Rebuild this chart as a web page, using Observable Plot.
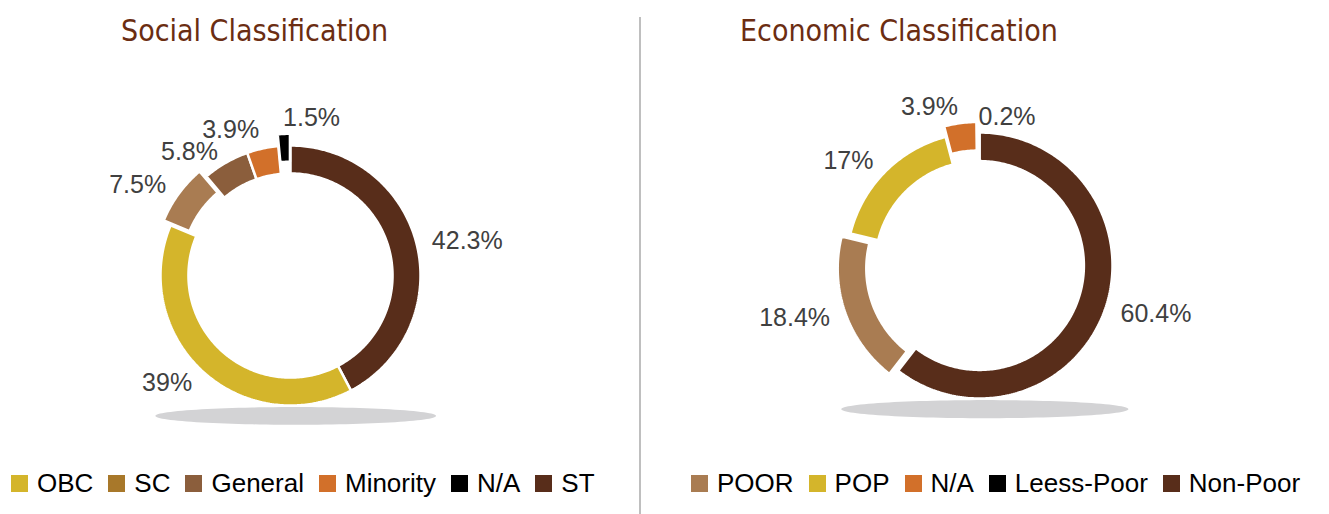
<!DOCTYPE html>
<html>
<head>
<meta charset="utf-8">
<script src="https://cdn.jsdelivr.net/npm/d3@7"></script>
<script src="https://cdn.jsdelivr.net/npm/@observablehq/plot@0.6"></script>
<style>
  html, body { margin: 0; padding: 0; background: #fff; }
  #wrap { position: relative; width: 1329px; height: 514px; overflow: hidden; font-family: "Liberation Sans", Arial, sans-serif; }
  .col { position: absolute; top: 0; height: 514px; }
  #c1 { left: 0; width: 639px; }
  #c2 { left: 641px; width: 688px; }
  #divider { position: absolute; left: 638.5px; top: 17px; width: 2px; height: 497px; background: #BFBFBF; }
  .title { position: absolute; top: 11px; font-family: "Liberation Sans Narrow", "DejaVu Sans Condensed", "Liberation Sans", sans-serif; font-size: 30px; color: #6B2D12; white-space: nowrap; line-height: 40px; }
  .plot { position: absolute; top: 60px; left: 0; }
  .legend { position: absolute; top: 467px; display: flex; align-items: center; font-size: 26px; color: #000; white-space: nowrap; line-height: 32px; }
  .item { display: flex; align-items: center; margin-right: 15px; }
  .sw { width: 17px; height: 17px; margin-right: 9px; flex: none; }
</style>
</head>
<body>
<div id="wrap">
  <div id="divider"></div>
  <div class="col" id="c1">
    <div class="title" style="left:121px">Social Classification</div>
    <div class="plot" id="p1"></div>
    <div class="legend" id="l1" style="left:11px"></div>
  </div>
  <div class="col" id="c2">
    <div class="title" style="left:99px">Economic Classification</div>
    <div class="plot" id="p2"></div>
    <div class="legend" id="l2" style="left:50px"></div>
  </div>
</div>
<script>
// ---------- DATA ----------
const socialCategories = ["OBC", "SC", "General", "Minority", "N/A", "ST"];
const socialValues     = [39, 7.5, 5.8, 3.9, 1.5, 42.3];
const socialLabels     = ["39%", "7.5%", "5.8%", "3.9%", "1.5%", "42.3%"];

const economicCategories = ["POOR", "POP", "N/A", "Leess-Poor", "Non-Poor"];
const economicValues     = [18.4, 17, 3.9, 0.2, 60.4];
const economicLabels     = ["18.4%", "17%", "3.9%", "0.2%", "60.4%"];

// ---------- STYLE ----------
const socialSliceColors  = ["#D4B52B", "#A97C52", "#8B5E3C", "#D2702A", "#000000", "#582D1A"];
const socialLegendColors = ["#D4B52B", "#A8782A", "#8B5E3C", "#D2702A", "#000000", "#582D1A"];
const socialExplode = {"SC": 0.065, "N/A": 0.09};

const economicSliceColors  = ["#A97C52", "#D4B52B", "#D2702A", "#000000", "#582D1A"];
const economicLegendColors = economicSliceColors;
const economicExplode = {"POOR": 0.07, "N/A": 0.08};

const INNER = 0.785;
const LABEL_FONT = "25px 'Liberation Sans', Arial, sans-serif";

const measureCtx = document.createElement("canvas").getContext("2d");
measureCtx.font = LABEL_FONT;

function donut(container, cats, vals, labels, colors, explode, layout) {
  const {W, H, cx, cy, R} = layout;
  const n = cats.length;
  // ring order: last category starts at 12 o'clock, then the rest clockwise
  const ordered = [n - 1, ...d3.range(n - 1)].map(i => ({key: cats[i], value: vals[i], label: labels[i]}));
  const arcs = d3.pie().sort(null).value(d => d.value)(ordered);
  const slices = arcs.map(a => {
    const mid = (a.startAngle + a.endAngle) / 2;
    const off = explode[a.data.key] || 0;
    return {key: a.data.key, label: a.data.label, a0: a.startAngle, a1: a.endAngle, mid, off,
            ox: off * Math.sin(mid), oy: off * Math.cos(mid)};
  });
  // polygon outline of each ring segment
  const pts = [];
  for (const s of slices) {
    const steps = Math.max(2, Math.ceil((s.a1 - s.a0) / 0.015));
    for (let k = 0; k <= steps; k++) {
      const a = s.a0 + (s.a1 - s.a0) * k / steps;
      pts.push({key: s.key, x: s.ox + Math.sin(a), y: s.oy + Math.cos(a)});
    }
    for (let k = steps; k >= 0; k--) {
      const a = s.a0 + (s.a1 - s.a0) * k / steps;
      pts.push({key: s.key, x: s.ox + INNER * Math.sin(a), y: s.oy + INNER * Math.cos(a)});
    }
  }
  // shadow ellipse under the ring
  const shadow = d3.range(0, 121).map(k => {
    const t = k / 120 * 2 * Math.PI;
    return {x: 0.04 + 1.08 * Math.cos(t), y: -1.08 + 0.068 * Math.sin(t)};
  });
  // label placement: just outside the ring at the slice's mid angle
  for (const s of slices) {
    s.anchor = Math.sin(s.mid) < -0.1 ? "end" : "start";
    const r = 1.12 + s.off;
    s.lx = r * Math.sin(s.mid);
    s.ly = r * Math.cos(s.mid);
    s.w = measureCtx.measureText(s.label).width / R;
  }
  // simple vertical relaxation to avoid overlapping labels
  const boxH = 22 / R;
  const box = s => s.anchor === "end" ? [s.lx - s.w, s.lx] : [s.lx, s.lx + s.w];
  for (let it = 0; it < 30; it++) {
    for (let i = 0; i < slices.length; i++) for (let j = i + 1; j < slices.length; j++) {
      const a = slices[i], b = slices[j];
      const [a0, a1] = box(a), [b0, b1] = box(b);
      if (a1 + 2 / R < b0 || b1 + 2 / R < a0) continue;
      const dy = Math.abs(a.ly - b.ly);
      if (dy >= boxH) continue;
      const push = (boxH - dy) / 2 + 0.001;
      if (a.ly >= b.ly) { a.ly += push; b.ly -= push; } else { a.ly -= push; b.ly += push; }
    }
  }
  const textOpts = {x: "lx", y: "ly", text: "label", fontSize: 25, fill: "#404040"};
  const chart = Plot.plot({
    width: W, height: H,
    margin: 0, marginTop: 0, marginRight: 0, marginBottom: 0, marginLeft: 0,
    x: {domain: [-cx / R, (W - cx) / R], range: [0, W], axis: null},
    y: {domain: [-(H - cy) / R, cy / R], range: [H, 0], axis: null},
    color: {domain: ordered.map(d => d.key), range: ordered.map(d => colors[cats.indexOf(d.key)])},
    style: {fontFamily: "'Liberation Sans', Arial, sans-serif", background: "transparent", overflow: "visible"},
    marks: [
      Plot.line(shadow, {x: "x", y: "y", fill: "#D3D3D5", stroke: "none", curve: "linear-closed"}),
      Plot.line(pts, {x: "x", y: "y", z: "key", fill: "key", stroke: "white", strokeWidth: 2.5, strokeLinejoin: "miter", curve: "linear-closed"}),
      Plot.text(slices, {...textOpts, filter: s => s.anchor === "end", textAnchor: "end"}),
      Plot.text(slices, {...textOpts, filter: s => s.anchor === "start", textAnchor: "start"})
    ]
  });
  document.getElementById(container).appendChild(chart);
}

function legend(container, cats, colors) {
  const el = document.getElementById(container);
  cats.forEach((c, i) => {
    const item = document.createElement("div");
    item.className = "item";
    const sw = document.createElement("span");
    sw.className = "sw";
    sw.style.background = colors[i];
    const t = document.createElement("span");
    t.textContent = c;
    item.appendChild(sw);
    item.appendChild(t);
    el.appendChild(item);
  });
}

donut("p1", socialCategories, socialValues, socialLabels, socialSliceColors, socialExplode,
      {W: 639, H: 400, cx: 290, cy: 215, R: 130});
donut("p2", economicCategories, economicValues, economicLabels, economicSliceColors, economicExplode,
      {W: 688, H: 400, cx: 338, cy: 205, R: 133});
legend("l1", socialCategories, socialLegendColors);
legend("l2", economicCategories, economicLegendColors);
</script>
</body>
</html>
